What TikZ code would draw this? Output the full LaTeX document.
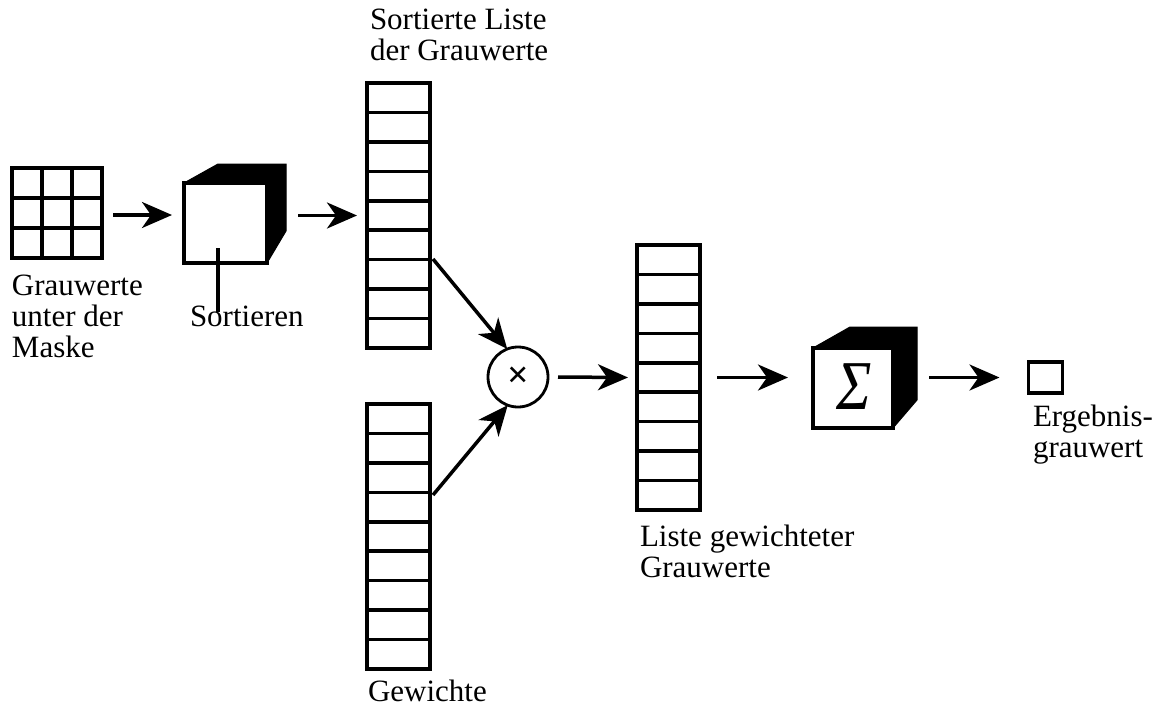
\documentclass[tikz,border=0pt]{standalone}
\usepackage{fontspec}
\setmainfont{Liberation Serif}
\usetikzlibrary{arrows.meta,calc}
\begin{document}
\begin{tikzpicture}[x=1pt,y=-1pt,
  ln/.style={line width=3.5pt},
  arr/.style={line width=3.5pt,-{Stealth[length=30pt,width=26pt,inset=9pt]}},
  lbl/.style={anchor=base west,inner sep=0pt,outer sep=0pt,align=left,
    font=\fontsize{31}{31}\selectfont},
  box/.style={draw,line width=3.5pt,inner sep=0pt,outer sep=0pt,fill=white},
  listbox/.style={box,minimum width=63pt,minimum height=265pt},
  shade/.style={fill=black,draw=black,line width=1pt}
]
\useasboundingbox (0,0) rectangle (1160,713);

% 3x3 mask
\node[box,minimum width=90pt,minimum height=90pt] (grid) at (57,213) {};
\foreach \i in {1,2} {
  \draw[ln] ($(grid.north west)!\i/3!(grid.north east)$) -- ($(grid.south west)!\i/3!(grid.south east)$);
  \draw[ln] ($(grid.north west)!\i/3!(grid.south west)$) -- ($(grid.north east)!\i/3!(grid.south east)$);
}

% sort cube
\fill[shade] (184,183) -- (218,164) -- (286,164) -- (286,231) -- (267,263) -- (267,183) -- cycle;
\node[box,minimum width=83pt,minimum height=80pt] (cube1) at (225.5,223) {};
\coordinate (stemtop) at (218,248);
\coordinate (stembot) at (218,312);
\draw[ln] (stemtop) -- (stembot);

% lists
\node[listbox] (list1) at (398.5,215.5) {};
\node[listbox] (list2) at (398.5,536.5) {};
\node[listbox] (list3) at (668.5,377.5) {};
\foreach \l in {list1,list2,list3} {
  \foreach \i in {1,...,8} {
    \draw[ln] ($(\l.north west)!\i/9!(\l.south west)$) -- ($(\l.north east)!\i/9!(\l.south east)$);
  }
}

% multiplier
\node[circle,draw,line width=2.8pt,minimum size=60pt,inner sep=0pt,outer sep=0pt,
  font=\fontsize{38}{38}\selectfont\bfseries] (mul) at (518,377) {×};

% sum cube
\fill[shade] (813,348) -- (850,327) -- (917,327) -- (917,400) -- (893,428) -- (893,348) -- cycle;
\node[box,minimum width=80pt,minimum height=80pt] (cube2) at (853,388) {};
\node[inner sep=0pt,font=\fontsize{70}{70}\selectfont\itshape,xscale=0.85] (sig) at (854,387) {Σ};

% result
\node[box,minimum width=34pt,minimum height=31pt] (res) at (1045.5,377.5) {};

% arrows
\coordinate (a1s) at (433,259);
\coordinate (a2s) at (433,495);
\draw[arr] ([xshift=11pt]grid.east |- 0,215) -- ([xshift=-12pt]cube1.west |- 0,215);
\draw[arr] ([xshift=31pt]cube1.east |- list1.west) -- ([xshift=-10pt]list1.west);
\draw[arr] (a1s) -- (mul.111);
\draw[arr] (a2s) -- (mul.-110);
\draw[arr] ([xshift=10pt]mul.east) -- ([xshift=-9pt]list3.west);
\draw[arr] ([xshift=17pt]list3.east) -- ([xshift=-25pt]cube2.west |- list3.east);
\draw[arr] ([xshift=36pt]cube2.east |- res.west) -- ([xshift=-29pt]res.west);

% labels (anchor = baseline of the last line)
\node[lbl] (t1) at (12,357) {Grauwerte\\unter der\\Maske};
\node[lbl] (t2) at (190,326) {Sortieren};
\node[lbl] (t3) at (370,60) {Sortierte Liste\\der Grauwerte};
\node[lbl] (t4) at (368,701) {Gewichte};
\node[lbl] (t5) at (640,577) {Liste gewichteter\\Grauwerte};
\node[lbl] (t6) at (1033,457) {Ergebnis-\\grauwert};
\end{tikzpicture}
\end{document}
